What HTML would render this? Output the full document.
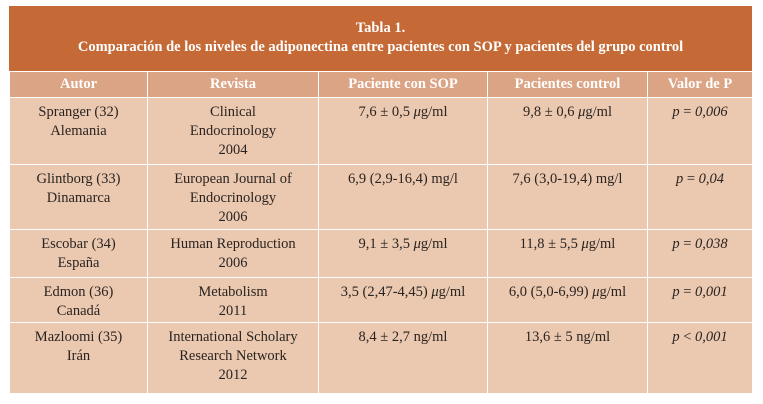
<!DOCTYPE html>
<html><head><meta charset="utf-8">
<style>
body{margin:0;width:763px;height:404px;background:#fff;font-family:"Liberation Serif",serif;color:#2a2420;}
#t{position:absolute;left:9px;top:6px;width:743px;}
.title{background:#c56a36;color:#fff;height:65px;text-align:center;font-weight:bold;font-size:14.5px;line-height:19px;box-sizing:border-box;padding-top:13px;}
table{border-collapse:collapse;width:743px;table-layout:fixed;}
td,th{border:1.5px solid #fff;text-align:center;vertical-align:top;font-size:14.5px;line-height:19px;padding:5px 2px 0;}
th{background:#dba484;color:#fff;font-weight:bold;font-size:14.5px;height:22px;padding:3px 2px 0;}
td{background:#ebc8b0;}
i{font-style:italic;}
</style></head><body>
<div id="t">
<div class="title">Tabla 1.<br>Comparación de los niveles de adiponectina entre pacientes con SOP y pacientes del grupo control</div>
<table>
<colgroup><col style="width:138px"><col style="width:171px"><col style="width:169px"><col style="width:160px"><col style="width:105px"></colgroup>
<tr><th>Autor</th><th>Revista</th><th>Paciente con SOP</th><th>Pacientes control</th><th>Valor de P</th></tr>
<tr style="height:67px"><td>Spranger (32)<br>Alemania</td><td>Clinical<br>Endocrinology<br>2004</td><td>7,6 ± 0,5 <i>μ</i>g/ml</td><td>9,8 ± 0,6 <i>μ</i>g/ml</td><td><i>p</i> = <i>0,006</i></td></tr>
<tr style="height:65px"><td>Glintborg (33)<br>Dinamarca</td><td>European Journal of<br>Endocrinology<br>2006</td><td>6,9 (2,9-16,4) mg/l</td><td>7,6 (3,0-19,4) mg/l</td><td><i>p</i> = <i>0,04</i></td></tr>
<tr style="height:48px"><td>Escobar (34)<br>España</td><td>Human Reproduction<br>2006</td><td>9,1 ± 3,5 <i>μ</i>g/ml</td><td>11,8 ± 5,5 <i>μ</i>g/ml</td><td><i>p</i> = <i>0,038</i></td></tr>
<tr style="height:45px"><td>Edmon (36)<br>Canadá</td><td>Metabolism<br>2011</td><td>3,5 (2,47-4,45) <i>μ</i>g/ml</td><td>6,0 (5,0-6,99) <i>μ</i>g/ml</td><td><i>p</i> = <i>0,001</i></td></tr>
<tr style="height:71px"><td>Mazloomi (35)<br>Irán</td><td>International Scholary<br>Research Network<br>2012</td><td>8,4 ± 2,7 ng/ml</td><td>13,6 ± 5 ng/ml</td><td><i>p</i> &lt; <i>0,001</i></td></tr>
</table>
</div>
</body></html>
